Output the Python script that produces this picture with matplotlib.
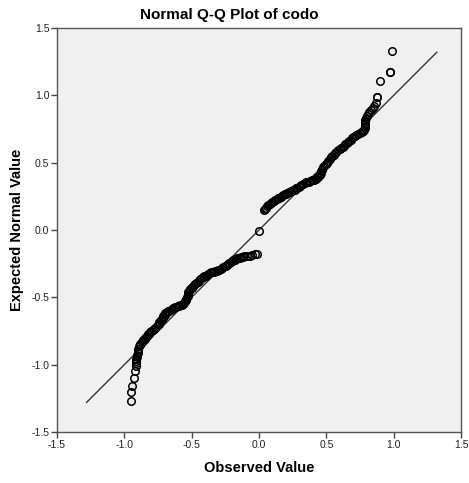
import matplotlib.pyplot as plt

plt.rcParams["font.family"] = ["Liberation Sans", "DejaVu Sans"]

# (observed value, expected normal value) pairs, in rank order
lower_tail = [
    (-0.95, -1.27), (-0.95, -1.20), (-0.94, -1.16), (-0.93, -1.10),
    (-0.92, -1.05), (-0.915, -1.01), (-0.915, -0.99), (-0.91, -0.97),
    (-0.91, -0.955), (-0.905, -0.94), (-0.905, -0.925), (-0.90, -0.91),
    (-0.90, -0.895), (-0.895, -0.88),
]
lower_branch = [
    (-0.89, -0.865), (-0.885, -0.855), (-0.88, -0.845), (-0.87, -0.835),
    (-0.865, -0.825), (-0.86, -0.82), (-0.85, -0.81), (-0.845, -0.80),
    (-0.84, -0.795), (-0.83, -0.785), (-0.825, -0.775), (-0.82, -0.77),
    (-0.81, -0.76), (-0.80, -0.75), (-0.79, -0.745), (-0.78, -0.735),
    (-0.77, -0.725), (-0.76, -0.715), (-0.75, -0.705), (-0.745, -0.695),
    (-0.74, -0.685), (-0.73, -0.675), (-0.725, -0.665), (-0.72, -0.66),
    (-0.715, -0.65), (-0.71, -0.64), (-0.70, -0.63), (-0.695, -0.62),
    (-0.685, -0.61), (-0.675, -0.605), (-0.665, -0.60), (-0.655, -0.595),
    (-0.645, -0.585), (-0.635, -0.58), (-0.625, -0.575), (-0.615, -0.57),
    (-0.605, -0.565), (-0.595, -0.565), (-0.585, -0.56), (-0.575, -0.555),
    (-0.565, -0.55), (-0.555, -0.54), (-0.55, -0.53), (-0.545, -0.52),
    (-0.54, -0.51), (-0.535, -0.50), (-0.53, -0.49), (-0.53, -0.48),
    (-0.525, -0.47), (-0.525, -0.46), (-0.52, -0.45), (-0.51, -0.44),
    (-0.50, -0.43), (-0.495, -0.42), (-0.485, -0.41), (-0.475, -0.40),
    (-0.465, -0.39), (-0.455, -0.385), (-0.445, -0.375), (-0.435, -0.365),
    (-0.425, -0.36), (-0.415, -0.35), (-0.405, -0.345), (-0.395, -0.34),
    (-0.385, -0.335), (-0.375, -0.325), (-0.365, -0.32), (-0.355, -0.315),
    (-0.345, -0.31), (-0.335, -0.31), (-0.325, -0.305), (-0.315, -0.305),
    (-0.305, -0.30), (-0.295, -0.295), (-0.285, -0.29), (-0.275, -0.285),
    (-0.265, -0.275), (-0.255, -0.27), (-0.245, -0.265), (-0.24, -0.26),
    (-0.23, -0.25), (-0.22, -0.245), (-0.21, -0.235), (-0.20, -0.23),
    (-0.19, -0.225), (-0.18, -0.22), (-0.17, -0.215), (-0.16, -0.21),
    (-0.15, -0.205), (-0.14, -0.205), (-0.13, -0.20), (-0.12, -0.20),
    (-0.11, -0.195),
]
middle = [
    (-0.09, -0.19), (-0.07, -0.19), (-0.05, -0.185), (-0.03, -0.18),
    (-0.015, -0.175), (0.0, -0.005),
]
upper_branch = [
    (0.035, 0.145), (0.045, 0.155), (0.05, 0.165), (0.06, 0.175),
    (0.07, 0.185), (0.08, 0.195), (0.09, 0.20), (0.10, 0.21),
    (0.11, 0.215), (0.12, 0.225), (0.13, 0.23), (0.14, 0.235),
    (0.15, 0.24), (0.16, 0.245), (0.17, 0.25), (0.18, 0.26),
    (0.19, 0.265), (0.20, 0.27), (0.21, 0.275), (0.22, 0.28),
    (0.23, 0.285), (0.24, 0.29), (0.255, 0.295), (0.265, 0.30),
    (0.275, 0.31), (0.285, 0.315), (0.295, 0.32), (0.305, 0.33),
    (0.315, 0.335), (0.33, 0.345), (0.34, 0.35), (0.35, 0.355),
    (0.36, 0.36), (0.37, 0.36), (0.38, 0.365), (0.39, 0.37),
    (0.40, 0.37), (0.41, 0.375), (0.42, 0.38), (0.43, 0.39),
    (0.44, 0.395), (0.45, 0.405), (0.455, 0.415), (0.46, 0.425),
    (0.46, 0.435), (0.465, 0.445), (0.465, 0.455), (0.475, 0.465),
    (0.485, 0.475), (0.495, 0.49), (0.505, 0.50), (0.515, 0.515),
    (0.525, 0.525), (0.535, 0.54), (0.545, 0.55), (0.555, 0.56),
    (0.565, 0.57), (0.575, 0.58), (0.59, 0.595), (0.60, 0.60),
    (0.61, 0.61), (0.62, 0.62), (0.63, 0.625), (0.64, 0.635),
    (0.65, 0.645), (0.66, 0.65), (0.67, 0.66), (0.68, 0.67),
    (0.69, 0.68), (0.70, 0.69), (0.71, 0.70), (0.72, 0.705),
    (0.735, 0.71), (0.75, 0.72), (0.765, 0.725), (0.775, 0.735),
    (0.78, 0.745), (0.785, 0.76), (0.785, 0.77), (0.79, 0.785),
    (0.79, 0.80), (0.79, 0.815), (0.795, 0.83),
]
upper_tail = [
    (0.80, 0.845), (0.81, 0.86), (0.82, 0.875), (0.83, 0.89),
    (0.845, 0.905), (0.855, 0.92), (0.865, 0.94), (0.875, 0.99),
    (0.875, 0.99), (0.90, 1.11), (0.97, 1.17), (0.97, 1.17),
    (0.99, 1.33),
]
ref_line = [-1.28, 1.32]
ticks = [-1.5, -1.0, -0.5, 0.0, 0.5, 1.0, 1.5]

points = lower_tail + lower_branch + middle + upper_branch + upper_tail
observed = [p[0] for p in points]
expected = [p[1] for p in points]

fig = plt.figure(figsize=(4.69, 4.83), dpi=100)
ax = fig.add_axes([0.1215, 0.1056, 0.8615, 0.8364])
ax.set_facecolor("#f0f0f0")

ax.plot(ref_line, ref_line, color="#333333", linewidth=1.0, zorder=2)
ax.plot(observed, expected, linestyle="none", marker="o", markersize=5.4,
        markerfacecolor="none", markeredgecolor="black", markeredgewidth=1.1,
        zorder=3)

ax.set_xlim(-1.5, 1.5)
ax.set_ylim(-1.5, 1.5)
ax.set_xticks(ticks)
ax.set_yticks(ticks)
ax.set_xticklabels([f"{t:.1f}" for t in ticks])
ax.set_yticklabels([f"{t:.1f}" for t in ticks])
ax.tick_params(direction="out", length=4, width=1, color="#444444",
               labelsize=7.5, labelcolor="#222222", pad=1.5)
for spine in ax.spines.values():
    spine.set_color("#555555")
    spine.set_linewidth(1.0)

# title is centred on the whole figure, not on the axes
fig.text(0.49, 0.969, "Normal Q-Q Plot of codo", fontsize=11,
         fontweight="bold", ha="center", va="center")
ax.set_xlabel("Observed Value", fontsize=10.5, fontweight="bold", labelpad=8)
ax.set_ylabel("Expected Normal Value", fontsize=10.5, fontweight="bold",
              labelpad=5)

fig.savefig("out.png", dpi=100)
